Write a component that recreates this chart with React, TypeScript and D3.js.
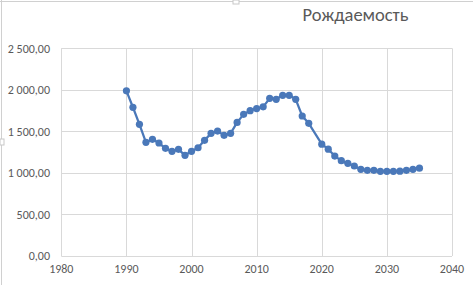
import React from "react";
import * as d3 from "d3";

const years = [1990,1991,1992,1993,1994,1995,1996,1997,1998,1999,2000,2001,2002,2003,2004,2005,2006,2007,2008,2009,2010,2011,2012,2013,2014,2015,2016,2017,2018,2020,2021,2022,2023,2024,2025,2026,2027,2028,2029,2030,2031,2032,2033,2034,2035];
const births = [1988,1790,1585,1368,1404,1360,1296,1260,1284,1212,1260,1303,1392,1476,1504,1452,1476,1608,1705,1749,1775,1795,1898,1886,1934,1934,1886,1685,1597,1346,1286,1203,1147,1115,1083,1043,1031,1031,1019,1019,1019,1021,1031,1043,1057];
const xTicks = [1980,1990,2000,2010,2020,2030,2040];
const yTicks = [0,500,1000,1500,2000,2500];
const title = "Рождаемость";

const W = 473, H = 285;
const locale = d3.formatLocale({ decimal: ",", thousands: "\u00a0", grouping: [3], currency: ["", ""] });
const fmt = locale.format(",.2f");

export default function App() {
  const x = d3.scaleLinear().domain([1980, 2040]).range([61.3, 452]);
  const y = d3.scaleLinear().domain([0, 2500]).range([256, 48.3]);
  const pts = years.map((yr, i) => [yr, births[i]] as [number, number]);
  const line = d3.line<[number, number]>().x(d => x(d[0])).y(d => y(d[1]));
  const font = "Carlito, Calibri, 'Open Sans', 'Liberation Sans', sans-serif";
  return (
    <div style={{ position: "fixed", left: 0, top: 0 }}>
      <svg width={W} height={H} style={{ display: "block", background: "#fff" }}>
        <line x1={1.5} y1={0} x2={1.5} y2={H} stroke="#d0d0d0" />
        <line x1={0} y1={1.5} x2={W} y2={1.5} stroke="#d0d0d0" />
        <rect x={233} y={0} width={6} height={4} fill="#fff" stroke="#c8c8c8" />
        <rect x={0} y={139} width={4} height={6} fill="#fff" stroke="#c8c8c8" />
        <text x={355.5} y={21} textAnchor="middle" fontFamily={font} fontSize={18.5} fill="#595959">{title}</text>
        {yTicks.map(t => (
          <g key={"y" + t}>
            <line x1={x(1980)} x2={x(2040)} y1={Math.round(y(t)) + 0.5} y2={Math.round(y(t)) + 0.5} stroke="#d9d9d9" />
            <text x={50} y={y(t)} dy="0.35em" textAnchor="end" fontFamily={font} fontSize={12} fill="#595959">{fmt(t)}</text>
          </g>
        ))}
        {xTicks.map(t => (
          <g key={"x" + t}>
            <line x1={Math.round(x(t)) + 0.5} x2={Math.round(x(t)) + 0.5} y1={y(2500)} y2={y(0)} stroke="#d9d9d9" />
            <text x={x(t)} y={269} dy="0.35em" textAnchor="middle" fontFamily={font} fontSize={12} fill="#595959">{t}</text>
          </g>
        ))}
        <path d={line(pts) || ""} fill="none" stroke="#4a78b9" strokeWidth={2.25} strokeLinejoin="round" />
        {pts.map((d, i) => (
          <circle key={i} cx={x(d[0])} cy={y(d[1])} r={3.6} fill="#4a78b9" />
        ))}
      </svg>
    </div>
  );
}
